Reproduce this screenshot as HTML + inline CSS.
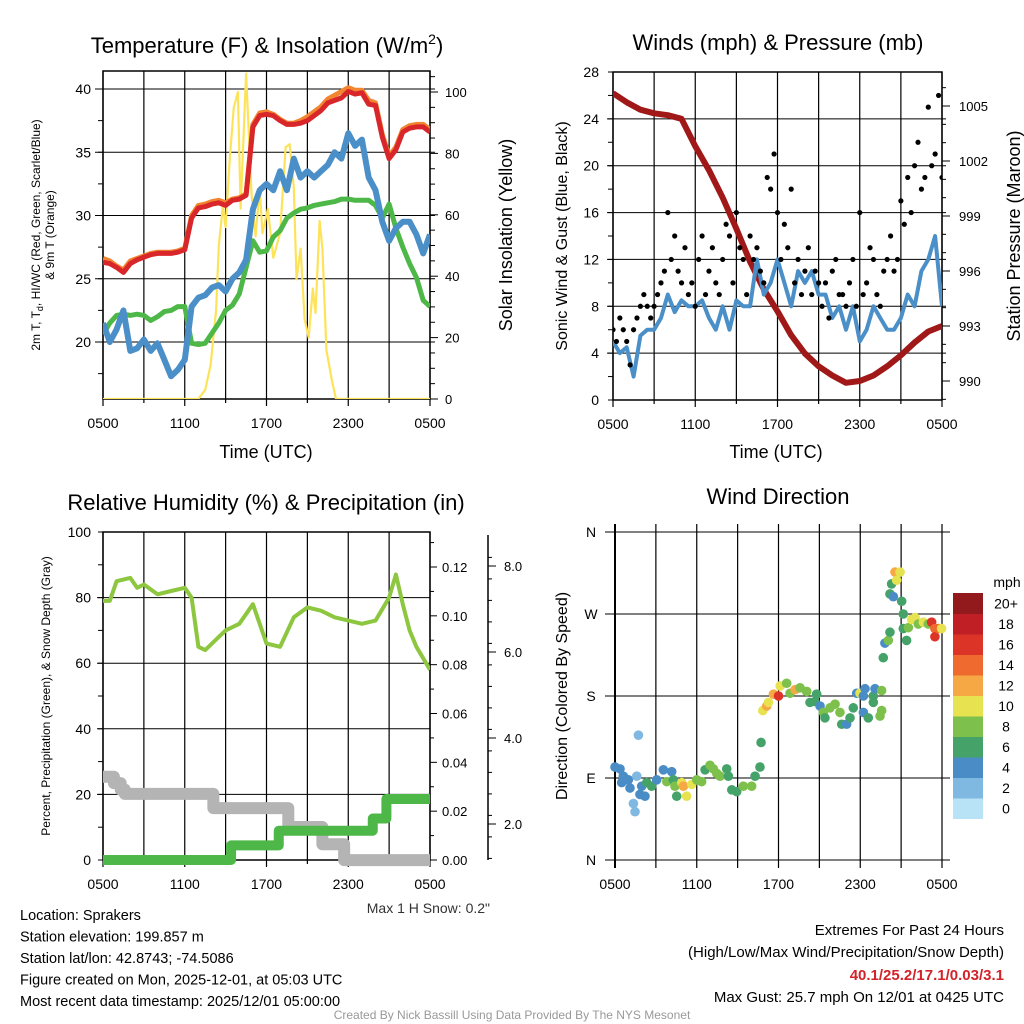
<!DOCTYPE html>
<html><head><meta charset="utf-8"><style>
html,body{margin:0;padding:0;background:#fff;}
svg{display:block;font-family:"Liberation Sans",sans-serif;}
</style></head><body>
<svg id="s" width="1024" height="1024" viewBox="0 0 1024 1024" xmlns="http://www.w3.org/2000/svg"></svg>
<script>
// ---------- DATA ----------
const halfHours = [];for(let i=0;i<=48;i++)halfHours.push(i/2);
const tempRed=[26.3,26.2,25.9,25.5,26.2,26.5,26.7,26.9,27.0,27.0,27.0,27.1,27.3,29.8,30.6,30.7,30.9,31.0,30.8,31.2,31.3,31.6,37.0,37.9,38.0,37.9,37.5,37.2,37.2,37.3,37.5,37.9,38.3,38.9,39.1,39.3,39.8,39.6,39.7,38.8,38.7,36.2,34.5,35.2,36.6,36.9,37.0,37.0,36.6];
const tempOrange=[26.6,26.4,26.0,25.7,26.4,26.6,26.8,27.0,27.1,27.1,27.1,27.2,27.4,30.0,30.8,30.9,31.1,31.2,31.0,31.3,31.4,31.7,37.2,38.1,38.2,38.0,37.6,37.3,37.3,37.5,37.8,38.2,38.6,39.2,39.5,39.8,40.1,39.9,39.9,39.1,38.9,36.4,34.7,35.4,36.8,37.1,37.2,37.2,36.8];
const dewGreen=[20.6,21.5,22.1,22.2,22.1,22.2,22.1,21.7,22.0,22.4,22.5,22.8,22.8,19.9,19.8,19.9,20.7,21.5,22.5,22.9,23.8,25.9,28.0,27.1,27.2,28.3,28.8,29.8,30.2,30.5,30.6,30.8,30.9,31.0,31.1,31.3,31.3,31.2,31.2,31.2,30.8,29.8,30.9,29.0,27.5,26.2,25.1,23.3,22.8];
const chillBlue=[21.5,20.0,21.0,22.5,19.3,19.5,20.2,19.3,19.9,18.6,17.3,17.8,18.6,22.8,23.5,23.7,24.3,24.5,24.0,25.0,25.5,26.5,30.5,32.0,32.5,32.0,33.5,32.0,34.5,33.0,33.5,33.0,33.5,34.0,35.0,34.5,36.5,35.5,36.0,33.0,32.0,29.5,28.0,29.0,29.5,29.5,28.5,27.0,28.5];
const solarTimes=[0,7.0,7.5,7.9,8.3,8.5,8.8,9.0,9.3,9.6,9.9,10.1,10.5,10.9,11.2,11.5,11.7,12.1,12.5,13.0,13.4,13.7,14.0,14.2,14.5,14.8,15.1,15.4,15.6,15.9,16.1,16.4,16.8,17.1,24];
const solarVals=[0,0,3,11,29,50,63,56,78,95,100,62,106,67,53,69,54,62,46,54,82,83,69,39,49,26,20,36,28,58,49,16,6,0,0];
const pressTimes=[0,1,2,3,4,5,6,7,8,9,10,11,12,13,14,15,16,17,18,19,20,21,22,23,24];
const pressVals=[1005.7,1005.2,1004.8,1004.6,1004.5,1004.3,1002.8,1001.5,1000.0,998.3,996.5,995.0,993.8,992.5,991.5,990.8,990.3,989.9,990.0,990.3,990.8,991.4,992.1,992.7,993.0];
const windBlue=[5,4,4.5,2,5.5,6,6,7,9,7.5,8.5,8,8,8.5,7,6,8,6,8.5,8,8,12,9,10,12,10,8,11,10,11,9,9,7,8,6,8,5,6,8,7,6,6,7,9,8,11,12,14,8];
const gustVals=[6,5,7,6,5,3,6,7,8,9,8,7,8,9,10,11,16,12,14,11,10,13,9,10,8,12,14,9,11,13,10,9,12,15,14,10,16,13,12,9,14,12,13,11,10,19,18,21,16,12,15,13,18,10,12,9,11,13,9,11,10,8,10,7,11,12,9,9,8,10,12,8,16,9,10,13,12,9,8,11,12,14,11,12,17,15,19,16,20,22,18,19,25,20,21,26,19];
const rhTimes=[0,0.5,1,2,2.5,3,4,5,6,6.5,7,7.5,8,9,10,11,11.5,12,13,14,15,16,17,18,19,20,21,21.5,22,22.5,23,24];
const rhVals=[79,79,85,86,83,84,81,82,83,80,65,64,66,70,72,78,72,66,65,74,77,76,74,73,72,73,80,87,78,70,65,58];
const precipTimes=[0,9.4,12.9,19.8,20.8,24];
const precipVals=[0,0.006,0.012,0.017,0.025,0.025];
const snowTimes=[0,0.8,1.3,1.6,7.6,8.1,13.2,13.6,15.7,16.1,17.3,17.7,24];
const snowVals=[3.1,2.95,2.8,2.7,2.7,2.37,2.37,1.93,1.93,1.53,1.53,1.16,1.16];
const dirTimes=[0,0.37,0.61,0.49,0.98,1.1,1.72,1.6,1.96,1.83,1.35,1.47,2.2,2.33,2.69,3.06,3.55,3.8,4.16,4.28,4.53,4.4,4.9,5.02,5.26,5.63,6.0,6.36,6.61,6.97,7.22,7.47,7.71,8.2,8.32,8.57,8.93,9.42,10.03,10.28,10.64,10.72,10.85,11.14,11.26,11.63,12.0,12.12,12.6,12.85,13.22,13.58,14.07,14.31,14.68,14.8,15.05,15.29,15.41,15.78,16.15,16.51,16.64,17.0,17.25,17.49,17.74,17.98,18.23,18.35,18.23,18.59,18.96,19.08,18.96,19.57,19.57,19.45,19.69,19.81,20.06,20.18,20.18,20.43,20.3,20.55,20.67,20.92,21.04,21.16,21.16,21.4,21.53,21.77,22.02,22.26,22.63,22.99,23.24,23.48,23.48,23.73,23.97];
const dirVals=[102,100,92,85,88,79,137,92,81,72,62,53,70,85,81,88,99,86,97,88,70,81,85,81,70,83,88,86,99,104,100,95,92,100,92,77,75,81,81,92,102,129,164,169,173,182,180,191,194,183,187,189,185,173,174,182,169,162,156,167,171,162,149,149,156,167,183,183,180,188,162,156,180,188,173,186,164,158,222,238,241,250,292,289,303,316,307,316,284,270,254,241,255,264,266,259,261,259,261,254,245,254,254];
const dirSpeeds=[4,3,4,4,4,4,2,2,4,4,2,2,4,6,6,4,4,8,4,6,6,8,10,12,10,10,8,8,6,8,8,8,8,6,6,6,6,8,8,6,6,6,10,12,10,12,16,10,8,8,12,8,8,6,6,6,4,8,6,8,8,8,6,4,6,6,4,10,4,4,4,6,6,4,6,8,8,8,6,4,8,6,6,4,6,12,10,10,6,6,6,6,8,10,10,8,10,8,16,14,16,14,10];
const speedColors=["#b8e3f7","#7fb9e2","#4a8cc6","#45a36a","#7dc04b","#e6e250","#f6a844","#ef6a2e","#dd3428","#c01f26","#931a1c"];
const speedLabels=["0","2","4","6","8","10","12","14","16","18","20+"];
const timeLabels=["0500","1100","1700","2300","0500"];

// ---------- HELPERS ----------
const S=document.getElementById('s');const NS="http://www.w3.org/2000/svg";
function el(tag,attrs,parent,txt){const e=document.createElementNS(NS,tag);for(const k in attrs)e.setAttribute(k,attrs[k]);if(txt!==undefined)e.textContent=txt;(parent||S).appendChild(e);return e;}
function lin(d0,d1,r0,r1){return v=>r0+(v-d0)*(r1-r0)/(d1-d0);}
function pathD(xs,ys,fx,fy){return xs.map((x,i)=>(i?'L':'M')+fx(x).toFixed(1)+','+fy(ys[i]).toFixed(1)).join('');}
function stepD(xs,ys,fx,fy){let d='';xs.forEach((x,i)=>{if(i===0)d+='M'+fx(x)+','+fy(ys[i]);else d+='L'+fx(x)+','+fy(ys[i-1])+'L'+fx(x)+','+fy(ys[i]);});return d;}
function txt(x,y,s,size,anchor,parent,extra){const t=el('text',Object.assign({x:x,y:y,'font-size':size,'text-anchor':anchor||'middle',fill:'#000'},extra||{}),parent,s);return t;}
function frame(g,x0,x1,y0,y1,fx){
  for(let h=0;h<=24;h+=3){const x=fx(h);el('line',{x1:x,x2:x,y1:y0,y2:y1+(h%6===0?7:4),stroke:'#000','stroke-width':1.2},g);}
  el('rect',{x:x0,y:y0,width:x1-x0,height:y1-y0,fill:'none',stroke:'#000','stroke-width':1.5},g);
  timeLabels.forEach((l,i)=>txt(fx(i*6),y1+29,l,14,'middle',g));
}

// ---------- PANEL 1 ----------
(function(){
const g=el('g',{});

const x0=103,x1=430,y0=71,y1=399;
const fx=lin(0,24,x0,x1),fy=lin(20,40,342,89),fs=lin(0,100,399,92);
[20,25,30,35,40].forEach(v=>el('line',{x1:x0-8,x2:x1+5,y1:fy(v),y2:fy(v),stroke:'#000','stroke-width':1},g));
for(let v=17.5;v<=41;v+=2.5)el('line',{x1:x0-5,x2:x0,y1:fy(v),y2:fy(v),stroke:'#000'},g);
for(let v=0;v<=105;v+=5)el('line',{x1:x1,x2:x1+(v%20===0?8:5),y1:fs(v),y2:fs(v),stroke:'#000'},g);
frame(g,x0,x1,y0,y1,fx);
[20,25,30,35,40].forEach(v=>txt(x0-12,fy(v)+5,String(v),14,'end',g));
[0,20,40,60,80,100].forEach(v=>txt(x1+15,fs(v)+5,String(v),13,'start',g));
const cp=el('clipPath',{id:'c1'},g);el('rect',{x:x0,y:y0,width:x1-x0,height:y1-y0},cp);
const pg=el('g',{'clip-path':'url(#c1)'},g);
const s1=el('path',{d:pathD(solarTimes,solarVals,fx,fs),fill:'none',stroke:'#fde35a','stroke-width':2.2,'stroke-linejoin':'round'},pg);

const o=el('path',{d:pathD(halfHours,tempOrange,fx,fy),fill:'none',stroke:'#f28530','stroke-width':5,'stroke-linejoin':'round'},pg);

const r=el('path',{d:pathD(halfHours,tempRed,fx,fy),fill:'none',stroke:'#d9262a','stroke-width':5,'stroke-linejoin':'round'},pg);

const gr=el('path',{d:pathD(halfHours,dewGreen,fx,fy),fill:'none',stroke:'#4db848','stroke-width':5,'stroke-linejoin':'round'},pg);

const b=el('path',{d:pathD(halfHours,chillBlue,fx,fy),fill:'none',stroke:'#4a8fc8','stroke-width':6,'stroke-linejoin':'round'},pg);

const t=txt(267,53,'',22,'middle',g);t.innerHTML='Temperature (F) &amp; Insolation (W/m<tspan dy="-9" font-size="14">2</tspan><tspan dy="9">)</tspan>';

const ly=txt(0,0,'',12,'middle',g,{transform:'translate(40,235) rotate(-90)'});
ly.innerHTML='2m T, T<tspan dy="3" font-size="9">d</tspan><tspan dy="-3">, HI/WC (Red, Green, Scarlet/Blue)</tspan>';

txt(0,0,'& 9m T (Orange)',12,'middle',g,{transform:'translate(54,235) rotate(-90)'});
const ry=txt(0,0,'Solar Insolation (Yellow)',18,'middle',g,{transform:'translate(512,235) rotate(-90)'});

const xt=txt(266,458,'Time (UTC)',18,'middle',g);
})();

// ---------- PANEL 2 ----------
(function(){
const g=el('g',{});

const x0=613,x1=942,y0=72,y1=400;
const fx=lin(0,24,x0,x1),fy=lin(0,28,y1,y0),fp=lin(990,1005,381,106);
[4,8,12,16,20,24].forEach(v=>el('line',{x1:x0-6,x2:x1+4,y1:fy(v),y2:fy(v),stroke:'#000','stroke-width':1},g));
for(let v=0;v<=28;v+=2)el('line',{x1:x0-5,x2:x0,y1:fy(v),y2:fy(v),stroke:'#000'},g);
for(let v=989;v<=1006;v+=1)el('line',{x1:x1,x2:x1+((v-990)%3===0?8:4),y1:fp(v),y2:fp(v),stroke:'#000'},g);
frame(g,x0,x1,y0,y1,fx);
[0,4,8,12,16,20,24,28].forEach(v=>txt(x0-14,fy(v)+5,String(v),14,'end',g));
[990,993,996,999,1002,1005].forEach(v=>txt(x1+17,fp(v)+5,String(v),13,'start',g));
const cp=el('clipPath',{id:'c2'},g);el('rect',{x:x0,y:y0,width:x1-x0,height:y1-y0},cp);
const pg=el('g',{'clip-path':'url(#c2)'},g);
const pl=el('path',{d:pathD(pressTimes,pressVals,fx,fp),fill:'none',stroke:'#a01818','stroke-width':6,'stroke-linejoin':'round'},pg);

const wl=el('path',{d:pathD(halfHours,windBlue,fx,fy),fill:'none',stroke:'#4a8fc8','stroke-width':4,'stroke-linejoin':'round'},pg);

gustVals.forEach((v,i)=>{const c=el('circle',{cx:fx(i*0.25),cy:fy(v),r:2.6,fill:'#000'},pg);
});
const t=txt(778,50,'Winds (mph) & Pressure (mb)',22,'middle',g);
const ly=txt(0,0,'Sonic Wind & Gust (Blue, Black)',16,'middle',g,{transform:'translate(567,236) rotate(-90)'});

const ry=txt(0,0,'Station Pressure (Maroon)',18,'middle',g,{transform:'translate(1020,236) rotate(-90)'});

txt(776,458,'Time (UTC)',18,'middle',g);
})();

// ---------- PANEL 3 ----------
(function(){
const g=el('g',{});

const x0=103,x1=430,y0=532,y1=860;
const fx=lin(0,24,x0,x1),fy=lin(0,100,y1,y0),fpr=lin(0,0.12,860,567),fsn=lin(2,8,824,566);
[20,40,60,80].forEach(v=>el('line',{x1:x0-6,x2:x1,y1:fy(v),y2:fy(v),stroke:'#000','stroke-width':1},g));
for(let v=0;v<=100;v+=10)el('line',{x1:x0-5,x2:x0,y1:fy(v),y2:fy(v),stroke:'#000'},g);
for(let v=0;v<=0.135;v+=0.01)el('line',{x1:x1,x2:x1+(Math.round(v*100)%2===0?7:4),y1:fpr(v),y2:fpr(v),stroke:'#000'},g);
el('line',{x1:488,x2:488,y1:535,y2:860,stroke:'#000','stroke-width':1.5},g);
for(let v=1.2;v<=8.6;v+=0.5)el('line',{x1:488,x2:488+4,y1:fsn(v),y2:fsn(v),stroke:'#000'},g);
[2,4,6,8].forEach(v=>el('line',{x1:488,x2:496,y1:fsn(v),y2:fsn(v),stroke:'#000'},g));
frame(g,x0,x1,y0,y1,fx);
[0,20,40,60,80,100].forEach(v=>txt(x0-12,fy(v)+5,String(v),14,'end',g));
[0,0.02,0.04,0.06,0.08,0.10,0.12].forEach(v=>txt(x1+12,fpr(v)+5,v.toFixed(2),13,'start',g));
[2,4,6,8].forEach(v=>txt(504,fsn(v)+5,v.toFixed(1),13,'start',g));
const cp=el('clipPath',{id:'c3'},g);el('rect',{x:x0,y:y0-5,width:x1-x0,height:y1-y0+12},cp);
const pg=el('g',{'clip-path':'url(#c3)'},g);
const sn=el('path',{d:stepD(snowTimes,snowVals,fx,fsn),fill:'none',stroke:'#b4b4b4','stroke-width':12,'stroke-linejoin':'round','stroke-linecap':'round'},pg);

const pr=el('path',{d:stepD(precipTimes,precipVals,fx,fpr),fill:'none',stroke:'#4db848','stroke-width':10,'stroke-linejoin':'round','stroke-linecap':'round'},pg);

const rh=el('path',{d:pathD(rhTimes,rhVals,fx,fy),fill:'none',stroke:'#8dc63f','stroke-width':4,'stroke-linejoin':'round'},pg);

const t=txt(266,510,'Relative Humidity (%) & Precipitation (in)',22,'middle',g);
const ly=txt(0,0,'Percent, Precipitation (Green), & Snow Depth (Gray)',12,'middle',g,{transform:'translate(50,696) rotate(-90)'});

txt(490,913,'Max 1 H Snow: 0.2"',14,'end',g,{fill:'#333'});
})();

// ---------- PANEL 4 ----------
(function(){
const g=el('g',{});

const x0=615,x1=942,y0=532,y1=860;
const fx=lin(0,24,x0,x1),fy=lin(0,360,y1,y0);
[0,90,180,270,360].forEach(v=>el('line',{x1:x0-10,x2:x1+8,y1:fy(v),y2:fy(v),stroke:'#000','stroke-width':1},g));
for(let h=0;h<=24;h+=3)el('line',{x1:fx(h),x2:fx(h),y1:y0-8,y2:y1+8,stroke:'#000','stroke-width':1.2},g);
el('line',{x1:x0,x2:x0,y1:y0-8,y2:y1+8,stroke:'#000','stroke-width':2},g);
timeLabels.forEach((l,i)=>txt(fx(i*6),y1+29,l,14,'middle',g));
['N','E','S','W','N'].forEach((l,i)=>txt(591,fy(i*90)+5,l,14,'middle',g));
dirTimes.forEach((tm,i)=>{const k=Math.min(10,Math.round(dirSpeeds[i]/2));
const c=el('circle',{cx:fx(tm),cy:fy(dirVals[i]),r:4.8,fill:speedColors[k]},g);
});
const t=txt(778,504,'Wind Direction',22,'middle',g);
const ly=txt(0,0,'Direction (Colored By Speed)',16,'middle',g,{transform:'translate(567,696) rotate(-90)'});

const lg=el('g',{},g);
const bh=20.5;
speedColors.forEach((c,i)=>{const y=818.5-(i+1)*bh;el('rect',{x:953,y:y,width:30,height:bh+0.5,fill:c},lg);
txt(1006,y+bh/2+5,speedLabels[i],14,'middle',lg);});
txt(1007,587,'mph',14,'middle',lg);
})();

// ---------- FOOTER ----------
(function(){
const g=el('g',{});
['Location: Sprakers','Station elevation: 199.857 m','Station lat/lon: 42.8743; -74.5086','Figure created on Mon, 2025-12-01, at 05:03 UTC','Most recent data timestamp: 2025/12/01 05:00:00'].forEach((s,i)=>txt(20,920+i*21.5,s,14.5,'start',g));
const e=el('g',{});
txt(1004,935,'Extremes For Past 24 Hours',15,'end',e);
txt(1004,957,'(High/Low/Max Wind/Precipitation/Snow Depth)',15,'end',e);
txt(1004,980,'40.1/25.2/17.1/0.03/3.1',15,'end',e,{fill:'#d2232a','font-weight':'bold'});
txt(1004,1002,'Max Gust: 25.7 mph On 12/01 at 0425 UTC',15,'end',e);
const c=txt(512,1019,'Created By Nick Bassill Using Data Provided By The NYS Mesonet',12,'middle',S,{fill:'#999'});

})();
</script>
</body></html>
